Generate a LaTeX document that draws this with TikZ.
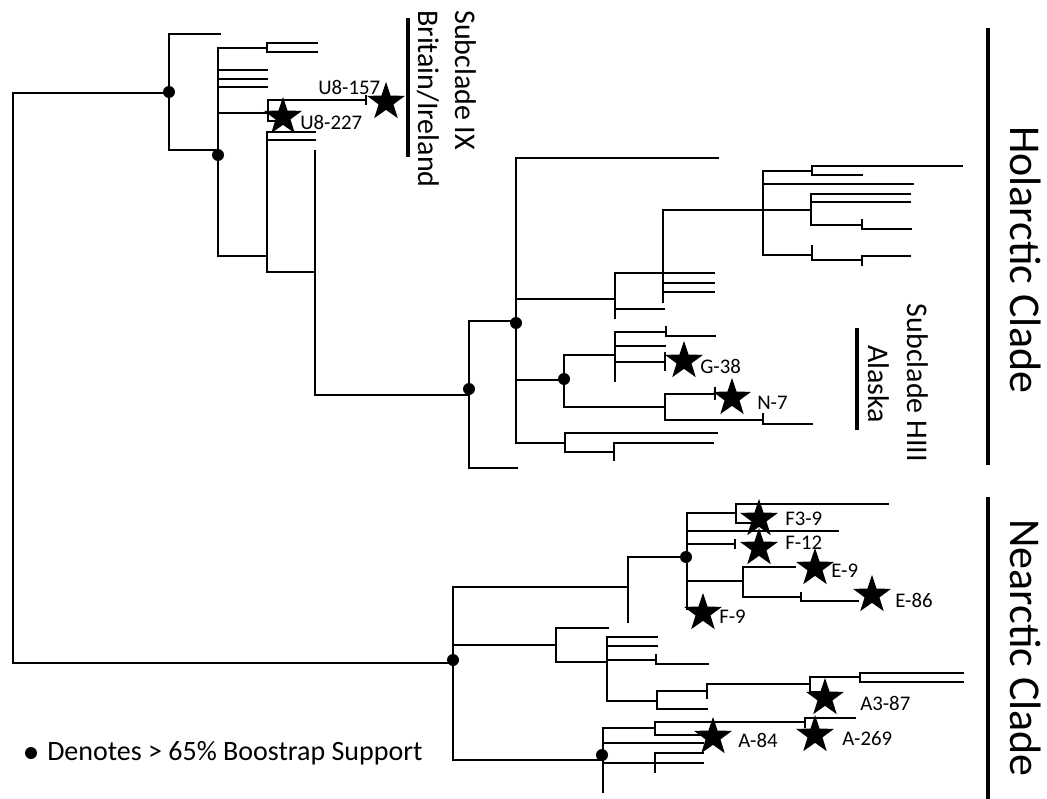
\documentclass[tikz,border=0pt]{standalone}
\usepackage{fontspec}
\setmainfont{Carlito}
\usetikzlibrary{shapes.geometric}
\tikzset{
  branch/.style={line width=1.7pt,line cap=rect},
  cladebar/.style={line width=3.2pt},
  boot/.style={circle,fill=black,inner sep=0pt,minimum size=9pt},
  hit/.style={star,star points=5,star point ratio=2.55,fill=black,inner sep=0pt,minimum size=30pt},
  tiplabel/.style={anchor=west,inner sep=0pt,font=\fontsize{15.6}{18}\selectfont},
  subclade/.style={rotate=-90,anchor=base,inner sep=0pt,font=\fontsize{22.5}{27}\selectfont},
  clade/.style={rotate=-90,anchor=base,inner sep=0pt,font=\fontsize{33}{40}\selectfont},
}
\begin{document}
\begin{tikzpicture}[x=0.75pt,y=-0.75pt]
\useasboundingbox[fill=white] (0,0) rectangle (1047,799);

% root
\draw[branch] (453,663) -| (13,93) -- (169,93);

% Holarctic clade
\draw[branch] (220,34) -| (169,150) -- (218,150);
\draw[branch] (267,48) -| (218,256) -- (267,256);
\draw[branch] (317,43) -| (267,52) -- (317,52);
\foreach \y in {70,79,87} \draw[branch] (218,\y) -- (267,\y);
\draw[branch] (218,113) -- (268,113);
\draw[branch] (366,100) -| (268,121) -- (284,121);
\draw[branch] (366,96) -- (366,104);
\draw[branch] (315,132) -| (267,272) -- (315,272);
\draw[branch] (267,140) -- (315,140);
\draw[branch] (315,151) -- (315,395) -- (469,395);
\draw[branch] (516,321) -| (469,468) -- (517,468);
\draw[branch] (718,158) -| (516,443) -- (565,443);
\draw[branch] (516,299) -- (615,299);
\draw[branch] (516,380) -- (564,380);
\draw[branch] (714,273) -| (615,318);
\draw[branch] (615,309) -- (664,309);
\draw[branch] (763,210) -| (663,302);
\foreach \y in {283,292} \draw[branch] (663,\y) -- (714,\y);
\draw[branch] (812,171) -| (763,255) -- (812,255);
\draw[branch] (962,166) -| (812,175) -- (862,175);
\draw[branch] (763,184) -- (913,184);
\draw[branch] (763,210) -- (811,210);
\draw[branch] (910,194) -| (811,225) -- (862,225);
\draw[branch] (811,202) -- (910,202);
\draw[branch] (862,220) |- (911,229);
\draw[branch] (812,246) |- (862,260);
\draw[branch] (862,265) |- (910,256);
\draw[branch] (615,355) -| (564,407) -- (665,407);
\draw[branch] (666,332) -| (615,381);
\draw[branch] (666,327) |- (715,336);
\draw[branch] (615,346) -- (665,346);
\draw[branch] (615,362) -- (665,362) (665,353) -- (665,370);
\draw[branch] (715,394) -| (665,420) -- (763,420);
\draw[branch] (715,388) -- (715,399);
\draw[branch] (763,414) |- (812,424);
\draw[branch] (717,433) -| (565,452) -- (614,452);
\draw[branch] (713,443) -| (614,460);

% Nearctic clade
\draw[branch] (628,587) -| (453,760) -- (603,760);
\draw[branch] (453,645) -- (556,645);
\draw[branch] (687,557) -| (628,622);
\draw[branch] (736,513) -| (687,609) -- (703,609);
\draw[branch] (888,504) -| (736,523) -- (760,523);
\draw[branch] (687,531) -- (838,531);
\draw[branch] (687,544) -- (735,544) (735,540) -- (735,548);
\draw[branch] (687,581) -- (743,581);
\draw[branch] (795,567) -| (743,597) -- (801,597);
\draw[branch] (801,593) |- (858,601);
\draw[branch] (608,628) -| (556,662) -- (607,662);
\draw[branch] (657,637) -| (607,701) -- (657,701);
\draw[branch] (607,646) -- (657,646);
\draw[branch] (607,660) -- (656,660);
\draw[branch] (656,655) |- (708,664);
\draw[branch] (707,691) -| (657,709) -- (707,709);
\draw[branch] (810,684) -| (707,698);
\draw[branch] (860,677) -| (810,692) -- (825,692);
\draw[branch] (963,673) -| (860,682) -- (963,682);
\draw[branch] (655,728) -| (603,792);
\draw[branch] (603,743) -- (703,743);
\draw[branch] (603,763) -- (655,763);
\draw[branch] (805,722) -| (655,735) -- (703,735);
\draw[branch] (805,727) |- (855,718);
\draw[branch] (703,753) -| (655,772);
\draw[branch] (655,763) -- (703,763);

% bootstrap support
\node[boot] (bsA) at (169,92) {};
\node[boot] (bsB) at (218,155) {};
\node[boot] (bsE) at (469,389) {};
\node[boot] (bsF) at (516,323) {};
\node[boot] (bsN) at (564,379) {};
\node[boot] (bsS) at (453,660) {};
\node[boot] (bsU) at (686,557) {};
\node[boot] (bsAB) at (602,755) {};

% sampled haplotypes
\node[hit] (sU157) at (386,102) {};
\node[hit] (sU227) at (283,117) {};
\node[hit] (sG38) at (684,361) {};
\node[hit] (sN7) at (732,398) {};
\node[hit] (sF39) at (759,519) {};
\node[hit] (sF12) at (759,548) {};
\node[hit] (sE9) at (815,568) {};
\node[hit] (sE86) at (872,595) {};
\node[hit] (sF9) at (703,613) {};
\node[hit] (sA387) at (825,698) {};
\node[hit] (sA269) at (815,735) {};
\node[hit] (sA84) at (713,737) {};

\node[tiplabel] (lU157) at (318,87) {U8-157};
\node[tiplabel] (lU227) at (300,122) {U8-227};
\node[tiplabel] (lG38) at (700,366) {G-38};
\node[tiplabel] (lN7) at (757,403) {N-7};
\node[tiplabel] (lF39) at (785,519) {F3-9};
\node[tiplabel] (lF12) at (785,543) {F-12};
\node[tiplabel] (lE9) at (831,571) {E-9};
\node[tiplabel] (lE86) at (895,600) {E-86};
\node[tiplabel] (lF9) at (719,617) {F-9};
\node[tiplabel] (lA387) at (860,703) {A3-87};
\node[tiplabel] (lA84) at (738,740) {A-84};
\node[tiplabel] (lA269) at (842,739) {A-269};

% subclades
\draw[cladebar] (408,18) -- (408,157);
\node[subclade,anchor=base west] (ixname) at (455,10) {Subclade IX};
\node[subclade,anchor=base west] (ixplace) at (418,10) {Britain/Ireland};
\draw[line width=3pt] (857,328) -- (857,430);
\node[subclade] (hname) at (907,383) {Subclade HIII};
\node[subclade] (hplace) at (868,384) {Alaska};

% clades
\draw[cladebar] (988,28) -- (988,465);
\node[clade] (holarctic) at (1010,260) {Holarctic Clade};
\draw[cladebar] (988,497) -- (988,799);
\node[clade] (nearctic) at (1010,648) {Nearctic Clade};

% key
\node[boot] (key) at (31,753) {};
\node[anchor=west,inner sep=0pt,font=\fontsize{21}{25}\selectfont] (keytext) at (47,753) {Denotes > 65\% Boostrap Support};
\end{tikzpicture}
\end{document}
